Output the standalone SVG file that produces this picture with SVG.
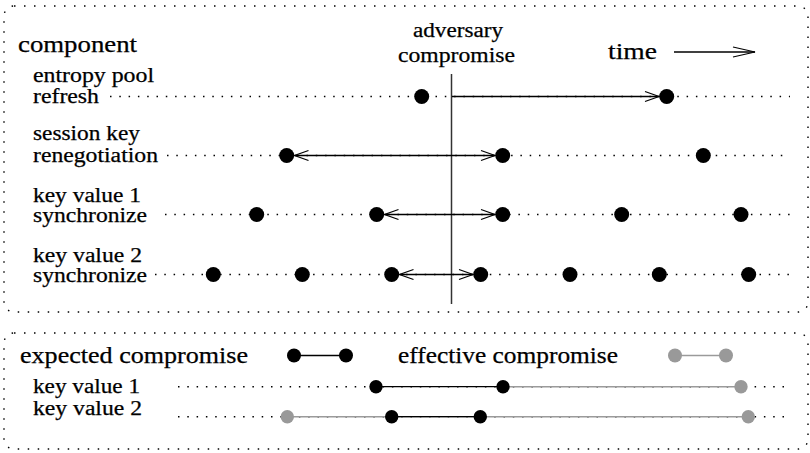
<svg xmlns="http://www.w3.org/2000/svg" width="810" height="453" viewBox="0 0 810 453">
  <style>
    .txt { font-family: "Liberation Serif", "Times New Roman", serif; fill: #000; stroke: #000; stroke-width: 0.25; }
    .lbl { font-size: 20px; }
    .hd { font-size: 22.5px; }
    .frame { fill: none; stroke: #000; stroke-width: 1.4; stroke-dasharray: 1.5 8.5; }
    .track { fill: none; stroke: #000; stroke-width: 1.4; stroke-dasharray: 1.5 7.8; }
    .link { fill: none; stroke: #000; stroke-width: 1.3; }
    .glink { fill: none; stroke: #9a9a9a; stroke-width: 1.5; }
    .dot { fill: #000; }
    .gdot { fill: #999; }
  </style>
  <defs>
    <marker id="vhead" markerUnits="userSpaceOnUse" markerWidth="20" markerHeight="14" refX="0" refY="0" viewBox="-16 -7 18 14" orient="auto-start-reverse">
      <path d="M-14,-5 L0,0 L-14,5" fill="none" stroke="#000" stroke-width="1.2"/>
    </marker>
    <marker id="vhead-long" markerUnits="userSpaceOnUse" markerWidth="26" markerHeight="14" refX="0" refY="0" viewBox="-24 -7 26 14" orient="auto">
      <path d="M-22,-5 L0,0 L-22,5" fill="none" stroke="#000" stroke-width="1.2"/>
    </marker>
  </defs>

  <!-- frames -->
  <rect class="frame" x="4" y="6" width="804" height="306" rx="10"/>
  <rect class="frame" x="4" y="333" width="804" height="116" rx="10"/>

  <!-- headings -->
  <text class="txt hd" x="18" y="52" textLength="119" lengthAdjust="spacingAndGlyphs">component</text>
  <g id="time-axis">
    <text class="txt" x="608" y="59" font-size="23.5" textLength="49" lengthAdjust="spacingAndGlyphs">time</text>
    <line class="link" x1="674" y1="52" x2="755" y2="52" marker-end="url(#vhead-long)"/>
  </g>
  <g id="adversary">
    <text class="txt lbl" x="413" y="37" textLength="90" lengthAdjust="spacingAndGlyphs">adversary</text>
    <text class="txt lbl" x="398" y="61.5" textLength="117" lengthAdjust="spacingAndGlyphs">compromise</text>
    <line x1="451.5" y1="74" x2="451.5" y2="304" stroke="#333" stroke-width="1.5"/>
  </g>

  <!-- component labels -->
  <g id="entropy-pool">
    <text class="txt lbl" x="33" y="82" textLength="121" lengthAdjust="spacingAndGlyphs">entropy pool</text>
    <text class="txt lbl" x="33" y="103" textLength="66" lengthAdjust="spacingAndGlyphs">refresh</text>
  </g>
  <g id="session-key">
    <text class="txt lbl" x="33" y="140" textLength="107" lengthAdjust="spacingAndGlyphs">session key</text>
    <text class="txt lbl" x="33" y="161.5" textLength="125" lengthAdjust="spacingAndGlyphs">renegotiation</text>
  </g>
  <g id="key-value-1">
    <text class="txt lbl" x="33" y="201.5" textLength="108" lengthAdjust="spacingAndGlyphs">key value 1</text>
    <text class="txt lbl" x="33" y="222" textLength="114" lengthAdjust="spacingAndGlyphs">synchronize</text>
  </g>
  <g id="key-value-2">
    <text class="txt lbl" x="33" y="261.5" textLength="109" lengthAdjust="spacingAndGlyphs">key value 2</text>
    <text class="txt lbl" x="33" y="281.5" textLength="114" lengthAdjust="spacingAndGlyphs">synchronize</text>
  </g>

  <!-- timelines and connectors -->
  <g id="connectors">
    <line class="track" x1="110" y1="96.5" x2="790" y2="96.5"/>
    <line class="track" x1="167" y1="155.5" x2="787" y2="155.5"/>
    <line class="track" x1="165" y1="214.5" x2="792" y2="214.5"/>
    <line class="track" x1="155" y1="274.5" x2="792" y2="274.5"/>

    <line class="link" x1="452" y1="96.5" x2="659" y2="96.5" marker-end="url(#vhead)"/>
    <line class="link" x1="294.5" y1="155.5" x2="495" y2="155.5" marker-start="url(#vhead)" marker-end="url(#vhead)"/>
    <line class="link" x1="384.5" y1="214.5" x2="495" y2="214.5" marker-start="url(#vhead)" marker-end="url(#vhead)"/>
    <line class="link" x1="399.5" y1="274.5" x2="473" y2="274.5" marker-start="url(#vhead)" marker-end="url(#vhead)"/>
  </g>

  <!-- events -->
  <g id="events">
    <circle class="dot" cx="421.7" cy="96.5" r="7.5"/>
    <circle class="dot" cx="666.7" cy="96.5" r="7.5"/>

    <circle class="dot" cx="286.7" cy="155.5" r="7.5"/>
    <circle class="dot" cx="502.7" cy="155.5" r="7.5"/>
    <circle class="dot" cx="703.3" cy="155.5" r="7.5"/>

    <circle class="dot" cx="256.7" cy="214.5" r="7.5"/>
    <circle class="dot" cx="376.7" cy="214.5" r="7.5"/>
    <circle class="dot" cx="502.7" cy="214.5" r="7.5"/>
    <circle class="dot" cx="621.7" cy="214.5" r="7.5"/>
    <circle class="dot" cx="741" cy="214.5" r="7.5"/>

    <circle class="dot" cx="213.3" cy="274.5" r="7.5"/>
    <circle class="dot" cx="302.3" cy="274.5" r="7.5"/>
    <circle class="dot" cx="391.7" cy="274.5" r="7.5"/>
    <circle class="dot" cx="480.7" cy="274.5" r="7.5"/>
    <circle class="dot" cx="570" cy="274.5" r="7.5"/>
    <circle class="dot" cx="659.3" cy="274.5" r="7.5"/>
    <circle class="dot" cx="748.7" cy="274.5" r="7.5"/>
  </g>

  <!-- legend -->
  <g id="legend-expected">
    <text class="txt hd" x="20" y="363" textLength="228" lengthAdjust="spacingAndGlyphs">expected compromise</text>
    <line class="link" x1="294" y1="355.5" x2="346" y2="355.5"/>
    <circle class="dot" cx="294" cy="355.5" r="7"/>
    <circle class="dot" cx="346" cy="355.5" r="7"/>
  </g>
  <g id="legend-effective">
    <text class="txt hd" x="398" y="363" textLength="220" lengthAdjust="spacingAndGlyphs">effective compromise</text>
    <line class="glink" x1="675" y1="355.5" x2="726" y2="355.5"/>
    <circle class="gdot" cx="675" cy="355.5" r="7"/>
    <circle class="gdot" cx="726" cy="355.5" r="7"/>
  </g>

  <!-- compromise windows per key -->
  <g id="window-key-1">
    <text class="txt lbl" x="33" y="393" textLength="107" lengthAdjust="spacingAndGlyphs">key value 1</text>
    <line class="track" x1="178" y1="386.7" x2="788" y2="386.7"/>
    <line class="glink" x1="503" y1="386.7" x2="741" y2="386.7"/>
    <line class="link" x1="376" y1="386.7" x2="503" y2="386.7"/>
    <circle class="dot" cx="376" cy="386.7" r="6.7"/>
    <circle class="dot" cx="503" cy="386.7" r="6.7"/>
    <circle class="gdot" cx="741" cy="386.7" r="6.7"/>
  </g>
  <g id="window-key-2">
    <text class="txt lbl" x="33" y="415" textLength="109" lengthAdjust="spacingAndGlyphs">key value 2</text>
    <line class="track" x1="178" y1="416.7" x2="788" y2="416.7"/>
    <line class="glink" x1="287.3" y1="416.7" x2="748.3" y2="416.7"/>
    <line class="link" x1="391.7" y1="416.7" x2="480.3" y2="416.7"/>
    <circle class="gdot" cx="287.3" cy="416.7" r="6.7"/>
    <circle class="dot" cx="391.7" cy="416.7" r="6.7"/>
    <circle class="dot" cx="480.3" cy="416.7" r="6.7"/>
    <circle class="gdot" cx="748.3" cy="416.7" r="6.7"/>
  </g>
</svg>
